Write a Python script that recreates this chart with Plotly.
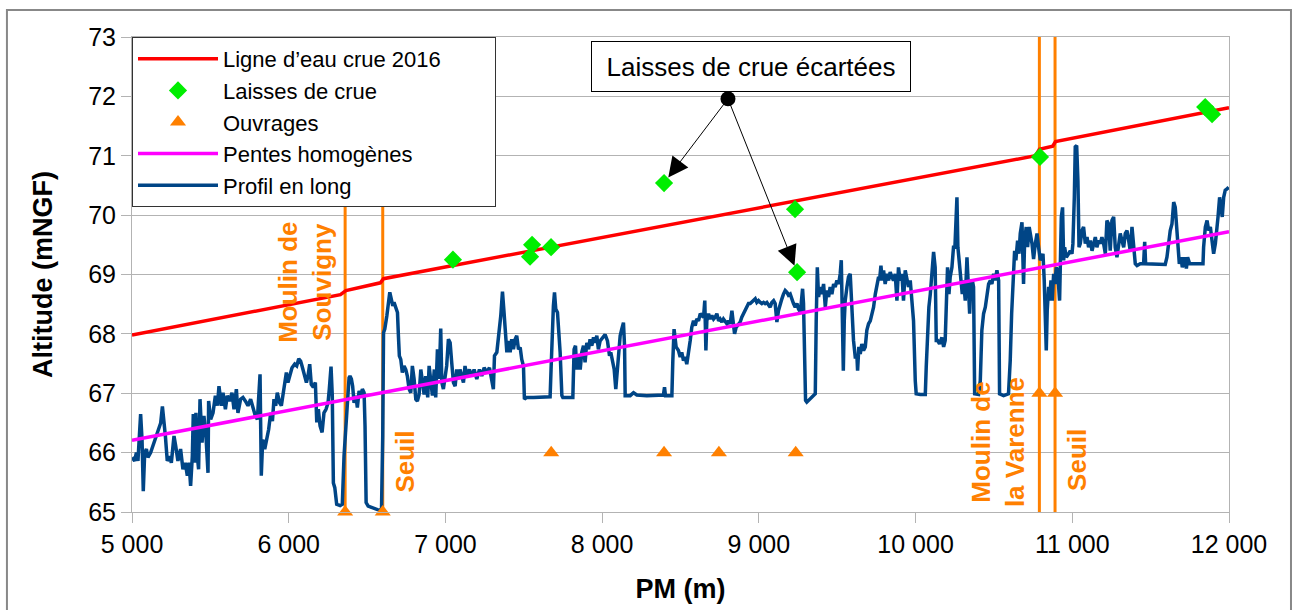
import plotly.graph_objects as go

FONT = "Liberation Sans"
ORANGE = "#ff8000"

# Ligne d'eau de la crue 2016 (PM en m, altitude en mNGF)
crue_pm = [5000, 6330, 6365, 6585, 6605, 10765, 10790, 10875, 10893, 12000]
crue_z = [67.98, 68.66, 68.73, 68.86, 68.93, 71.00, 71.11, 71.16, 71.24, 71.81]

# Laisses de crue relevées
laisses_pm = [7048, 7540, 7553, 7674, 8395, 9231, 9244, 10794, 11848, 11892]
laisses_z = [69.25, 69.30, 69.50, 69.46, 70.54, 70.10, 69.04, 70.98, 71.82, 71.70]

# Ouvrages
ouvrages_pm = [6360, 6600, 7675, 8395, 8745, 9235, 10790, 10890]
ouvrages_z = [65, 65, 66, 66, 66, 66, 67, 67]

# Ouvrages principaux (repérés par un trait vertical)
ouvrages_principaux_pm = [6360, 6600, 10790, 10890]

# Pentes homogènes
pentes_pm = [5000, 12000]
pentes_z = [66.21, 69.72]

# Profil en long du fond
profil_pm = [
    5000, 5017, 5028, 5038, 5055, 5064, 5072, 5081, 5092, 5102, 5119, 5134, 5155, 5170, 5183, 5194,
    5204, 5213, 5225, 5240, 5251, 5268, 5279, 5293, 5310, 5325, 5340, 5353, 5364, 5374, 5385, 5391,
    5400, 5408, 5417, 5425, 5434, 5447, 5459, 5472, 5485, 5489, 5502, 5517, 5532, 5545, 5555, 5570,
    5581, 5596, 5608, 5623, 5638, 5651, 5666, 5676, 5693, 5708, 5723, 5740, 5757, 5772, 5787, 5800,
    5810, 5817, 5825, 5834, 5847, 5859, 5872, 5885, 5896, 5906, 5917, 5927, 5942, 5953, 5963, 5974,
    5985, 5995, 6008, 6021, 6038, 6051, 6064, 6076, 6085, 6098, 6113, 6123, 6134, 6144, 6157, 6170,
    6179, 6189, 6200, 6213, 6225, 6238, 6251, 6259, 6270, 6278, 6285, 6294, 6300, 6306, 6328, 6342,
    6353, 6364, 6374, 6385, 6391, 6400, 6408, 6417, 6428, 6438, 6449, 6460, 6470, 6481, 6487, 6494,
    6507, 6534, 6566, 6592, 6600, 6605, 6613, 6626, 6634, 6645, 6655, 6664, 6672, 6683, 6694, 6700,
    6706, 6715, 6725, 6736, 6747, 6757, 6768, 6779, 6789, 6800, 6811, 6821, 6832, 6843, 6853, 6864,
    6874, 6887, 6896, 6906, 6917, 6929, 6938, 6949, 6960, 6970, 6977, 6987, 6998, 7008, 7019, 7030,
    7040, 7051, 7062, 7072, 7083, 7093, 7104, 7115, 7125, 7136, 7153, 7168, 7183, 7200, 7217, 7232,
    7247, 7264, 7281, 7296, 7306, 7313, 7328, 7353, 7364, 7374, 7383, 7392, 7402, 7413, 7423, 7434,
    7445, 7455, 7466, 7477, 7487, 7498, 7504, 7519, 7562, 7625, 7668, 7674, 7681, 7689, 7696, 7704,
    7715, 7723, 7732, 7743, 7749, 7785, 7813, 7821, 7830, 7838, 7849, 7860, 7870, 7881, 7891, 7902,
    7913, 7923, 7934, 7945, 7955, 7966, 7976, 7987, 8004, 8019, 8034, 8047, 8055, 8066, 8077, 8087,
    8094, 8104, 8115, 8125, 8136, 8143, 8147, 8179, 8200, 8221, 8285, 8391, 8398, 8404, 8445, 8451,
    8459, 8472, 8487, 8498, 8508, 8519, 8530, 8540, 8551, 8562, 8572, 8583, 8594, 8604, 8615, 8626,
    8636, 8647, 8655, 8662, 8668, 8679, 8689, 8700, 8711, 8721, 8732, 8743, 8753, 8764, 8774, 8785,
    8796, 8806, 8817, 8828, 8834, 8845, 8855, 8870, 8881, 8891, 8902, 8913, 8923, 8934, 8945, 8955,
    8966, 8977, 8987, 8998, 9009, 9019, 9030, 9040, 9051, 9062, 9072, 9083, 9094, 9104, 9115, 9125,
    9136, 9147, 9157, 9168, 9179, 9189, 9200, 9211, 9221, 9232, 9243, 9253, 9264, 9270, 9279, 9285,
    9292, 9298, 9306, 9328, 9349, 9360, 9366, 9373, 9381, 9392, 9402, 9413, 9424, 9434, 9445, 9455,
    9466, 9477, 9487, 9498, 9509, 9519, 9526, 9532, 9539, 9545, 9551, 9562, 9572, 9583, 9589, 9596,
    9604, 9615, 9626, 9630, 9638, 9647, 9657, 9668, 9679, 9689, 9700, 9711, 9721, 9732, 9743, 9753,
    9764, 9770, 9779, 9787, 9796, 9806, 9817, 9828, 9838, 9849, 9859, 9870, 9881, 9891, 9902, 9913,
    9923, 9934, 9945, 9955, 9966, 9977, 9987, 9998, 10004, 10030, 10062, 10068, 10077, 10085, 10094, 10104,
    10115, 10125, 10132, 10140, 10153, 10168, 10179, 10189, 10196, 10204, 10213, 10221, 10232, 10242, 10251, 10257,
    10264, 10270, 10279, 10289, 10298, 10306, 10317, 10328, 10338, 10345, 10353, 10362, 10370, 10377, 10402, 10413,
    10423, 10434, 10445, 10455, 10466, 10477, 10487, 10498, 10508, 10519, 10530, 10536, 10562, 10593, 10604, 10613,
    10621, 10632, 10640, 10651, 10660, 10668, 10679, 10689, 10696, 10706, 10715, 10725, 10743, 10753, 10764, 10775,
    10785, 10796, 10806, 10813, 10821, 10828, 10834, 10840, 10849, 10855, 10864, 10872, 10881, 10889, 10898, 10906,
    10915, 10919, 10923, 10930, 10938, 10945, 10951, 10962, 10977, 10987, 10998, 11004, 11013, 11019, 11028, 11036,
    11043, 11051, 11062, 11072, 11083, 11094, 11104, 11115, 11126, 11136, 11147, 11157, 11168, 11179, 11189, 11200,
    11211, 11221, 11232, 11242, 11253, 11264, 11274, 11285, 11296, 11306, 11317, 11328, 11338, 11349, 11360, 11370,
    11381, 11392, 11402, 11413, 11434, 11455, 11462, 11468, 11498, 11540, 11593, 11604, 11615, 11625, 11636, 11647,
    11657, 11668, 11674, 11683, 11693, 11702, 11715, 11728, 11736, 11749, 11764, 11796, 11834, 11838, 11849, 11860,
    11870, 11881, 11892, 11902, 11913, 11923, 11930, 11940, 11949, 11957, 11966, 11976, 11987, 11998,
]
profil_z = [
    65.92, 65.86, 66.00, 65.86, 66.65, 66.22, 65.35, 66.00, 66.06, 65.92, 66.00, 66.11, 66.28, 66.39, 66.50, 66.78,
    66.56, 66.28, 65.86, 65.94, 65.83, 66.28, 66.11, 65.86, 66.06, 65.72, 65.83, 65.61, 65.83, 65.44, 65.94, 66.65,
    65.83, 66.67, 65.94, 65.72, 66.90, 66.17, 66.62, 66.28, 65.66, 66.87, 66.56, 66.67, 66.96, 66.79, 67.12, 66.79,
    67.01, 66.73, 66.96, 66.87, 67.01, 66.73, 67.07, 66.67, 66.90, 66.93, 66.87, 66.79, 66.90, 66.73, 66.62, 66.56,
    67.07, 67.32, 65.61, 66.22, 66.06, 66.22, 66.39, 66.67, 66.53, 66.90, 66.79, 67.01, 66.84, 66.79, 66.96, 67.12,
    67.35, 67.18, 67.29, 67.43, 67.49, 67.46, 67.58, 67.54, 67.46, 67.35, 67.18, 67.29, 67.49, 67.15, 67.10, 67.18,
    66.51, 66.73, 66.45, 66.34, 66.67, 66.73, 66.84, 67.07, 67.45, 66.96, 65.49, 65.41, 65.21, 65.13, 65.11, 65.13,
    65.94, 66.45, 66.96, 67.26, 67.29, 67.24, 67.12, 66.84, 66.96, 66.76, 67.04, 66.96, 67.07, 67.01, 66.45, 65.16,
    65.10, 65.07, 65.04, 65.03, 66.28, 68.02, 68.08, 68.30, 68.53, 68.70, 68.58, 68.47, 68.53, 68.42, 68.36, 67.97,
    67.63, 67.57, 67.35, 67.46, 67.40, 67.29, 67.07, 67.01, 67.46, 67.24, 66.90, 66.87, 66.98, 67.40, 67.18, 66.98,
    67.29, 66.93, 67.46, 67.18, 66.96, 67.40, 66.93, 67.74, 67.24, 68.09, 67.18, 67.07, 67.24, 67.46, 67.91, 67.85,
    67.52, 67.18, 67.12, 67.40, 67.24, 67.40, 67.29, 67.18, 67.46, 67.29, 67.40, 67.29, 67.40, 67.24, 67.40, 67.29,
    67.43, 67.35, 67.43, 67.24, 67.07, 67.63, 67.69, 68.30, 68.71, 68.36, 67.97, 67.69, 67.88, 67.69, 67.91, 67.74,
    67.91, 67.97, 67.74, 67.77, 67.57, 67.46, 66.90, 66.93, 66.93, 66.93, 66.94, 67.40, 67.97, 68.47, 68.70, 68.42,
    68.36, 68.02, 67.69, 66.96, 66.93, 66.93, 66.93, 67.74, 67.80, 67.40, 67.63, 67.40, 67.69, 67.80, 67.52, 67.85,
    67.74, 67.91, 67.80, 67.94, 67.85, 67.97, 67.74, 67.88, 67.94, 67.99, 67.88, 67.63, 67.69, 67.52, 67.40, 67.07,
    67.29, 67.69, 67.97, 68.08, 68.19, 67.80, 66.96, 66.96, 67.01, 66.97, 66.96, 66.97, 67.10, 66.96, 66.96, 67.55,
    68.08, 67.78, 67.72, 67.61, 67.69, 67.55, 67.61, 67.49, 67.66, 67.89, 68.11, 68.22, 68.14, 68.25, 68.22, 68.34,
    68.31, 68.28, 68.56, 67.72, 68.22, 68.34, 68.25, 68.31, 68.25, 68.28, 68.34, 68.22, 68.25, 68.20, 68.25, 68.20,
    68.17, 68.22, 68.17, 68.39, 68.28, 68.00, 68.11, 68.17, 68.20, 68.28, 68.34, 68.39, 68.45, 68.51, 68.51, 68.53,
    68.56, 68.59, 68.53, 68.56, 68.53, 68.51, 68.53, 68.51, 68.53, 68.48, 68.45, 68.53, 68.56, 68.51, 68.20, 68.39,
    68.51, 68.59, 68.67, 68.73, 68.70, 68.65, 68.67, 68.56, 68.51, 68.45, 68.51, 68.42, 68.37, 68.51, 68.76, 68.51,
    67.83, 66.88, 66.85, 66.90, 66.96, 66.99, 68.22, 69.12, 68.62, 68.79, 68.67, 68.84, 68.45, 68.73, 68.62, 68.79,
    68.67, 68.84, 68.79, 68.90, 68.84, 69.01, 69.24, 68.56, 67.38, 68.22, 68.56, 68.79, 68.96, 69.01, 68.67, 68.28,
    67.89, 67.61, 67.61, 67.38, 67.78, 67.66, 67.83, 67.72, 67.78, 68.06, 68.17, 68.22, 68.34, 68.45, 68.67, 68.84,
    68.96, 68.90, 69.15, 68.90, 69.07, 68.84, 69.01, 68.90, 69.04, 68.96, 68.90, 69.01, 68.56, 69.12, 68.90, 69.01,
    68.56, 69.07, 68.90, 68.79, 68.90, 68.56, 68.22, 67.21, 66.99, 66.98, 66.98, 67.44, 68.00, 68.45, 68.67, 69.07,
    69.38, 69.12, 67.89, 67.89, 67.83, 67.94, 67.78, 67.89, 68.34, 69.12, 68.67, 68.96, 69.12, 69.46, 69.46, 69.74,
    70.30, 69.46, 69.18, 69.01, 68.67, 68.90, 68.56, 69.29, 68.62, 68.34, 68.84, 68.90, 68.79, 66.99, 66.98, 67.21,
    68.06, 68.34, 68.45, 68.67, 68.84, 68.90, 68.84, 69.01, 68.90, 69.07, 68.90, 66.99, 66.96, 66.99, 67.55, 68.34,
    68.90, 69.40, 69.24, 69.57, 69.35, 69.69, 69.88, 68.84, 69.57, 69.80, 69.46, 69.80, 69.52, 69.26, 69.52, 69.69,
    69.46, 69.24, 69.29, 69.35, 68.90, 68.28, 67.72, 68.39, 68.79, 68.56, 68.90, 68.56, 69.01, 68.84, 69.12, 69.07,
    68.73, 68.56, 69.07, 69.97, 70.13, 69.24, 69.46, 69.29, 69.35, 69.40, 69.35, 69.52, 70.30, 71.15, 71.17, 70.58,
    69.46, 69.52, 69.74, 69.80, 69.52, 69.63, 69.46, 69.57, 69.40, 69.52, 69.63, 69.46, 69.57, 69.52, 69.63, 69.52,
    69.35, 69.91, 69.85, 69.40, 69.91, 69.97, 69.46, 69.29, 69.52, 69.69, 69.57, 69.46, 69.69, 69.74, 69.57, 69.40,
    69.80, 69.40, 69.18, 69.15, 69.18, 69.18, 69.55, 69.18, 69.18, 69.18, 69.17, 69.29, 69.52, 69.74, 69.85, 70.22,
    70.13, 69.74, 69.40, 69.18, 69.29, 69.12, 69.29, 69.10, 69.29, 69.18, 69.18, 69.18, 69.18, 69.46, 69.80, 69.91,
    69.74, 69.80, 69.57, 69.35, 69.52, 69.74, 69.97, 70.30, 70.13, 69.97, 70.30, 70.42, 70.44, 70.47,
]

Z_MIN, Z_MAX = 65, 73
PM_MIN, PM_MAX = 5000, 12000

# Position de l'étiquette "Laisses de crue écartées" et du point de départ des flèches
callout_pm, callout_z = 8950, 72.5
callout_dot_pm, callout_dot_z = 8803, 71.96
laisses_ecartees = [(8395, 70.54), (9244, 69.04)]

NBSP = "\u00a0"

fig = go.Figure()

# Traits verticaux des ouvrages principaux
vx, vy = [], []
for pm in ouvrages_principaux_pm:
    vx += [pm, pm, None]
    vy += [Z_MIN, Z_MAX, None]
fig.add_trace(go.Scatter(x=vx, y=vy, mode="lines", line=dict(color=ORANGE, width=3),
                         showlegend=False, hoverinfo="skip"))

fig.add_trace(go.Scatter(x=profil_pm, y=profil_z, mode="lines", name="Profil en long",
                         line=dict(color="#004586", width=3.5), legendrank=5))
fig.add_trace(go.Scatter(x=pentes_pm, y=pentes_z, mode="lines", name="Pentes homogènes",
                         line=dict(color="#ff00ff", width=3.5), legendrank=4))
fig.add_trace(go.Scatter(x=crue_pm, y=crue_z, mode="lines",
                         name="Ligne d\u2019eau crue 2016" + NBSP * 8,
                         line=dict(color="#ff0000", width=3.5), legendrank=1))
fig.add_trace(go.Scatter(x=ouvrages_pm, y=ouvrages_z, mode="markers", name="Ouvrages",
                         marker=dict(symbol="triangle-up", size=14, color=ORANGE),
                         cliponaxis=False, legendrank=3))
fig.add_trace(go.Scatter(x=laisses_pm, y=laisses_z, mode="markers", name="Laisses de crue",
                         marker=dict(symbol="diamond", size=14, color="#00ee00"),
                         cliponaxis=False, legendrank=2))
fig.add_trace(go.Scatter(x=[callout_dot_pm], y=[callout_dot_z], mode="markers",
                         marker=dict(size=15, color="black"), showlegend=False,
                         hoverinfo="skip", cliponaxis=False))

annotations = []
for pm, z in laisses_ecartees:
    annotations.append(dict(x=pm, y=z, ax=callout_dot_pm, ay=callout_dot_z, axref="x", ayref="y",
                            xref="x", yref="y", text="", showarrow=True, arrowhead=2,
                            arrowsize=4, arrowwidth=1, arrowcolor="black", standoff=7))
annotations.append(dict(x=callout_pm, y=callout_z, xref="x", yref="y", text="Laisses de crue écartées",
                        showarrow=False, font=dict(family=FONT, size=26, color="black"),
                        bgcolor="white", bordercolor="black", borderwidth=1, borderpad=1,
                        width=316, height=47))

labels = [
    ("<b>Moulin de<br>Souvigny</b>", 6104, 68.86),
    ("<b>Seuil</b>", 6736, 65.85),
    ("<b>Moulin de<br>la Varenne</b>", 10527, 66.18),
    ("<b>Seuil</b>", 11031, 65.88),
]
for txt, pm, z in labels:
    annotations.append(dict(x=pm, y=z, xref="x", yref="y", text=txt, textangle=-90, showarrow=False,
                            font=dict(family=FONT, size=26, color=ORANGE), align="center",
                            xanchor="center", yanchor="middle"))

fig.update_layout(
    width=1292, height=610, autosize=False,
    margin=dict(l=132, r=63, t=37, b=98),
    paper_bgcolor="white", plot_bgcolor="white",
    separators=", ",
    font=dict(family=FONT, color="black"),
    showlegend=True,
    legend=dict(x=0, y=1, xanchor="left", yanchor="top", bgcolor="white",
                bordercolor="#333333", borderwidth=1, font=dict(family=FONT, size=22),
                itemwidth=80, tracegroupgap=0),
    annotations=annotations,
    shapes=[dict(type="rect", xref="paper", yref="paper", x0=-0.114, x1=1.0565, y0=-0.3, y1=1.0568,
                 line=dict(color="#888888", width=2), layer="below")],
)

fig.update_xaxes(range=[PM_MIN, PM_MAX], tickvals=list(range(PM_MIN, PM_MAX + 1, 1000)),
                 tickformat=",d", showgrid=False, zeroline=False,
                 showline=True, linecolor="#b3b3b3", linewidth=1, mirror=True,
                 ticks="outside", ticklen=10, tickcolor="#b3b3b3",
                 tickfont=dict(family=FONT, size=25),
                 title=dict(text="<b>PM (m)</b>", font=dict(family=FONT, size=27), standoff=22))
fig.update_yaxes(range=[Z_MIN, Z_MAX], dtick=1, showgrid=True, gridcolor="#b3b3b3", gridwidth=1,
                 zeroline=False, showline=True, linecolor="#b3b3b3", linewidth=1, mirror=True,
                 ticks="outside", ticklen=10, tickcolor="#b3b3b3",
                 tickfont=dict(family=FONT, size=25),
                 title=dict(text="<b>Altitude (mNGF)</b>", font=dict(family=FONT, size=27), standoff=27))

fig.write_html("out.html")
